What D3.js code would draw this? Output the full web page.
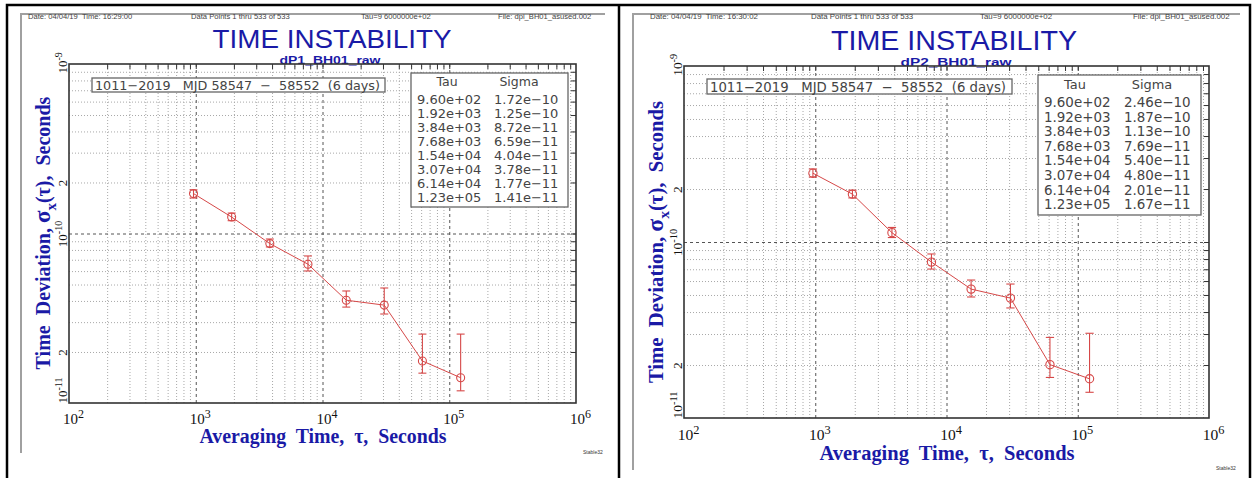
<!DOCTYPE html>
<html>
<head>
<meta charset="utf-8">
<script src="https://cdn.jsdelivr.net/npm/d3@7"></script>
<style>
  body { margin: 0; background: #fff; }
  svg text { font-family: "Liberation Sans", Arial, sans-serif; }
  .pre { white-space: pre; }
  .tbl { font-family: "DejaVu Sans", sans-serif !important; }
</style>
</head>
<body>
<svg id="chart" width="1253" height="478"></svg>
<script>
// ---- data ----
var tau = [960, 1920, 3840, 7680, 15400, 30700, 61400, 123000];

var sigma1   = [1.72e-10, 1.25e-10, 8.72e-11, 6.59e-11, 4.04e-11, 3.78e-11, 1.77e-11, 1.41e-11];
var sigma1Hi = [1.81e-10, 1.32e-10, 9.28e-11, 7.37e-11, 4.58e-11, 4.77e-11, 2.55e-11, 2.55e-11];
var sigma1Lo = [1.62e-10, 1.19e-10, 8.33e-11, 6.01e-11, 3.68e-11, 3.35e-11, 1.50e-11, 1.18e-11];

var sigma2   = [2.46e-10, 1.87e-10, 1.13e-10, 7.69e-11, 5.40e-11, 4.80e-11, 2.01e-11, 1.67e-11];
var sigma2Hi = [2.60e-10, 1.97e-10, 1.21e-10, 8.55e-11, 6.08e-11, 5.77e-11, 2.87e-11, 3.03e-11];
var sigma2Lo = [2.34e-10, 1.78e-10, 1.06e-10, 7.02e-11, 4.87e-11, 4.22e-11, 1.70e-11, 1.40e-11];

// table strings, as printed
var tauLabels    = ["9.60e+02", "1.92e+03", "3.84e+03", "7.68e+03", "1.54e+04", "3.07e+04", "6.14e+04", "1.23e+05"];
var sigma1Labels = ["1.72e\u221210", "1.25e\u221210", "8.72e\u221211", "6.59e\u221211", "4.04e\u221211", "3.78e\u221211", "1.77e\u221211", "1.41e\u221211"];
var sigma2Labels = ["2.46e\u221210", "1.87e\u221210", "1.13e\u221210", "7.69e\u221211", "5.40e\u221211", "4.80e\u221211", "2.01e\u221211", "1.67e\u221211"];

// axis ticks
var xTickValues = [1e2, 1e3, 1e4, 1e5, 1e6];
var xTickLabels = ["10^2", "10^3", "10^4", "10^5", "10^6"];
var yTickValues = [1e-11, 2e-11, 1e-10, 2e-10, 1e-9];
var yTickLabels = ["10^-11", "2", "10^-10", "2", "10^-9"];

var header1 = ["Date: 04/04/19  Time: 16:29:00", "Data Points 1 thru 533 of 533", "Tau=9 6000000e+02", "File: dpi_BH01_asused.002"];
var header2 = ["Date: 04/04/19  Time: 16:30:02", "Data Points 1 thru 533 of 533", "Tau=9 6000000e+02", "File: dpi_BH01_asused.002"];
var runLabel = "1011\u22122019   MJD 58547  \u2212  58552  (6 days)";

var blue = "#1a1aa6";
var red = "#d64848";

var svg = d3.select("#chart");

///////////////////////
// outer black frame (screenshot borders)
svg.append("path")
    .attr("d", "M7,478 V5 H1250 V478 M619,5 V478")
    .attr("fill", "none")
    .attr("stroke", "#000")
    .attr("stroke-width", 2.5);

// minor grid positions
var minorX = [], minorY = [];
for (var e = 2; e < 6; e++) for (var m = 2; m < 10; m++) minorX.push(m * Math.pow(10, e));
for (var e2 = -11; e2 < -9; e2++) for (var m2 = 2; m2 < 10; m2++) minorY.push(m2 * Math.pow(10, e2));

function drawPanel(p) {
  var k = p.k;
  var g = svg.append("g");

  // gray frame (left + top only)
  g.append("path")
      .attr("d", "M" + p.frame.x + "," + p.frame.y2 + " V" + p.frame.y + " H" + p.frame.x2)
      .attr("fill", "none")
      .attr("stroke", "#a0a0a0")
      .attr("stroke-width", 2);

  // header line
  p.headerTexts.forEach(function(t, i) {
    g.append("text")
        .attr("class", "pre")
        .text(t)
        .attr("x", p.header.xs[i])
        .attr("y", p.header.y)
        .attr("font-size", 7.6 * k)
        .attr("fill", "#444");
  });

  g.append("text")
      .text("TIME INSTABILITY")
      .attr("x", p.title.x)
      .attr("y", p.title.y)
      .attr("text-anchor", "middle")
      .attr("font-size", p.title.fs)
      .attr("textLength", p.title.w)
      .attr("lengthAdjust", "spacingAndGlyphs")
      .attr("fill", blue);

  g.append("text")
      .text(p.subtitle)
      .attr("x", p.sub.x)
      .attr("y", p.sub.y)
      .attr("text-anchor", "middle")
      .attr("font-size", p.sub.fs)
      .attr("font-weight", "bold")
      .attr("textLength", p.sub.w)
      .attr("lengthAdjust", "spacingAndGlyphs")
      .attr("fill", blue);

  ///////////////////////
  // Scales
  var x = d3.scaleLog().domain([1e2, 1e6]).range([p.x0, p.x1]);
  var y = d3.scaleLog().domain([1e-11, 1e-9]).range([p.y1, p.y0]);
  var w = p.x1 - p.x0, h = p.y1 - p.y0;

  ///////////////////////
  // Grid
  var gx = g.append("g")
      .attr("transform", "translate(0," + p.y1 + ")")
      .call(d3.axisBottom(x).tickValues(minorX).tickSize(-h).tickFormat(""));
  gx.select(".domain").remove();
  gx.selectAll("line").attr("stroke", "#a8a8a8").attr("stroke-dasharray", "1,2");

  var gy = g.append("g")
      .attr("transform", "translate(" + p.x0 + ",0)")
      .call(d3.axisLeft(y).tickValues(minorY).tickSize(-w).tickFormat(""));
  gy.select(".domain").remove();
  gy.selectAll("line").attr("stroke", "#a8a8a8").attr("stroke-dasharray", "1,2");

  var dx = g.append("g")
      .attr("transform", "translate(0," + p.y1 + ")")
      .call(d3.axisBottom(x).tickValues([1e3, 1e4, 1e5]).tickSize(-h).tickFormat(""));
  dx.select(".domain").remove();
  dx.selectAll("line").attr("stroke", "#555").attr("stroke-dasharray", "3,3");

  var dy = g.append("g")
      .attr("transform", "translate(" + p.x0 + ",0)")
      .call(d3.axisLeft(y).tickValues([1e-10]).tickSize(-w).tickFormat(""));
  dy.select(".domain").remove();
  dy.selectAll("line").attr("stroke", "#555").attr("stroke-dasharray", "3,3");

  // inner ticks on top and right edges
  var tt = g.append("g")
      .attr("transform", "translate(0," + p.y0 + ")")
      .call(d3.axisTop(x).tickValues(minorX.concat([1e3, 1e4, 1e5])).tickSize(-5).tickFormat(""));
  tt.select(".domain").remove();
  tt.selectAll("line").attr("stroke", "#333");

  var tr = g.append("g")
      .attr("transform", "translate(" + p.x1 + ",0)")
      .call(d3.axisRight(y).tickValues(minorY.concat([1e-10])).tickSize(-5).tickFormat(""));
  tr.select(".domain").remove();
  tr.selectAll("line").attr("stroke", "#333");

  // plot frame
  g.append("rect")
      .attr("x", p.x0).attr("y", p.y0)
      .attr("width", w).attr("height", h)
      .attr("fill", "none")
      .attr("stroke", "#333")
      .attr("stroke-width", 1.6);

  ///////////////////////
  // Tick labels
  var xl = g.append("g")
      .attr("transform", "translate(0," + (p.y1 + 21 * k) + ")")
      .call(d3.axisBottom(x).tickValues(xTickValues).tickSize(0).tickFormat(""));
  xl.select(".domain").remove();
  xl.selectAll(".tick text").remove();
  xl.selectAll(".tick").append("text")
      .attr("text-anchor", "middle")
      .attr("x", 4 * k)
      .attr("y", 0)
      .attr("fill", "#111")
      .style("font-family", "'Liberation Serif', 'Times New Roman', serif")
      .attr("font-size", 15 * k)
      .each(function(d, i) {
        var parts = xTickLabels[i].split("^");
        var t = d3.select(this);
        t.append("tspan").text(parts[0]);
        t.append("tspan").text(parts[1]).attr("dy", -6 * k).attr("font-size", 12 * k);
      });

  var yl = g.append("g")
      .attr("transform", "translate(" + p.x0 + ",0)")
      .call(d3.axisLeft(y).tickValues(yTickValues).tickSize(0).tickFormat(""));
  yl.select(".domain").remove();
  yl.selectAll(".tick text").remove();
  yl.selectAll(".tick").append("text")
      .attr("transform", "rotate(-90)")
      .attr("text-anchor", function(d, i) { return (i == 0 || i == yTickLabels.length - 1) ? "start" : "middle"; })
      .attr("x", function(d, i) { return i == yTickLabels.length - 1 ? -9 * k : 0; })
      .attr("y", -2)
      .attr("fill", "#111")
      .style("font-family", "'Liberation Serif', 'Times New Roman', serif")
      .attr("font-size", 13 * k)
      .each(function(d, i) {
        var parts = yTickLabels[i].split("^");
        var t = d3.select(this);
        t.append("tspan").text(parts[0]);
        if (parts[1]) t.append("tspan").text(parts[1]).attr("dy", -5 * k).attr("font-size", 10 * k);
      });

  ///////////////////////
  // Axis titles
  g.append("text")
      .attr("class", "pre")
      .text("Averaging  Time,  \u03c4,  Seconds")
      .attr("x", p.xTitle.x)
      .attr("y", p.xTitle.y)
      .attr("text-anchor", "middle")
      .style("font-family", "'Liberation Serif', 'Times New Roman', serif")
      .attr("font-weight", "bold")
      .attr("font-size", 20 * k)
      .attr("textLength", p.xTitle.w)
      .attr("lengthAdjust", "spacingAndGlyphs")
      .attr("fill", blue);

  var yt = g.append("text")
      .attr("class", "pre")
      .attr("transform", "translate(" + p.yTitle.x + "," + p.yTitle.y + ") rotate(-90)")
      .attr("text-anchor", "middle")
      .style("font-family", "'Liberation Serif', 'Times New Roman', serif")
      .attr("font-weight", "bold")
      .attr("font-size", 20 * k)
      .attr("fill", blue);
  yt.append("tspan").text("Time  Deviation, ");
  yt.append("tspan").text("\u03c3").attr("font-size", 23 * k);
  yt.append("tspan").text("x").attr("dy", 6 * k).attr("font-size", 15 * k);
  yt.append("tspan").text("(\u03c4),  Seconds").attr("dy", -6 * k);

  ///////////////////////
  // Label box
  g.append("rect")
      .attr("x", p.labelBox.x).attr("y", p.labelBox.y)
      .attr("width", p.labelBox.w).attr("height", p.labelBox.h)
      .attr("fill", "#fff")
      .attr("stroke", "#666")
      .attr("stroke-width", 1.3);
  g.append("text")
      .attr("class", "pre tbl")
      .text(runLabel)
      .attr("x", p.labelBox.x + 3)
      .attr("y", p.labelBox.y + p.labelBox.h - 2)
      .attr("font-size", 13 * k)
      .attr("textLength", p.labelBox.tw)
      .attr("lengthAdjust", "spacingAndGlyphs")
      .attr("fill", "#444");

  ///////////////////////
  // Table box
  var tb = p.table;
  g.append("rect")
      .attr("x", tb.x).attr("y", tb.y)
      .attr("width", tb.w).attr("height", tb.h)
      .attr("fill", "#fff")
      .attr("stroke", "#666")
      .attr("stroke-width", 1.3);
  g.append("text").text("Tau")
      .attr("class", "tbl")
      .attr("x", tb.tauHX).attr("y", tb.headY)
      .attr("text-anchor", "middle")
      .attr("font-size", 12.5 * k).attr("fill", "#444");
  g.append("text").text("Sigma")
      .attr("class", "tbl")
      .attr("x", tb.sigHX).attr("y", tb.headY)
      .attr("text-anchor", "middle")
      .attr("font-size", 12.5 * k).attr("fill", "#444");
  g.append("g").selectAll("text")
      .data(tauLabels)
      .enter().append("text")
      .attr("class", "tbl")
      .text(function(d) { return d; })
      .attr("x", tb.tauX)
      .attr("y", function(d, i) { return tb.row0 + i * tb.step; })
      .attr("font-size", 13 * k)
      .attr("fill", "#444");
  g.append("g").selectAll("text")
      .data(p.sigmaLabels)
      .enter().append("text")
      .attr("class", "tbl")
      .text(function(d) { return d; })
      .attr("x", tb.sigX)
      .attr("y", function(d, i) { return tb.row0 + i * tb.step; })
      .attr("font-size", 13 * k)
      .attr("fill", "#444");

  ///////////////////////
  // Data: line, error bars, circles
  var pts = tau.map(function(t, i) {
    return { tau: t, s: p.sigma[i], hi: p.hi[i], lo: p.lo[i] };
  });

  var line = d3.line()
      .x(function(d) { return x(d.tau); })
      .y(function(d) { return y(d.s); });

  g.append("path")
      .datum(pts)
      .attr("fill", "none")
      .attr("stroke", red)
      .attr("stroke-width", 1)
      .attr("d", line);

  var eb = g.append("g").selectAll("g")
      .data(pts)
      .enter().append("g")
      .attr("stroke", red)
      .attr("stroke-width", 1.1)
      .attr("fill", "none");
  eb.append("line")
      .attr("x1", function(d) { return x(d.tau); })
      .attr("x2", function(d) { return x(d.tau); })
      .attr("y1", function(d) { return y(d.hi); })
      .attr("y2", function(d) { return y(d.lo); });
  eb.append("line")
      .attr("x1", function(d) { return x(d.tau) - 4 * k; })
      .attr("x2", function(d) { return x(d.tau) + 4 * k; })
      .attr("y1", function(d) { return y(d.hi); })
      .attr("y2", function(d) { return y(d.hi); });
  eb.append("line")
      .attr("x1", function(d) { return x(d.tau) - 4 * k; })
      .attr("x2", function(d) { return x(d.tau) + 4 * k; })
      .attr("y1", function(d) { return y(d.lo); })
      .attr("y2", function(d) { return y(d.lo); });
  eb.append("circle")
      .attr("cx", function(d) { return x(d.tau); })
      .attr("cy", function(d) { return y(d.s); })
      .attr("r", 4 * k);

  // Stable32 stamp
  g.append("text")
      .text("Stable32")
      .attr("x", p.stable.x)
      .attr("y", p.stable.y)
      .attr("font-size", 5)
      .attr("fill", "#333");
}

drawPanel({
  x0: 69, x1: 576, y0: 64, y1: 403, k: 1,
  sigma: sigma1, hi: sigma1Hi, lo: sigma1Lo, sigmaLabels: sigma1Labels,
  subtitle: "dP1_BH01_raw", headerTexts: header1,
  frame: { x: 21, y: 14, x2: 605, y2: 453 },
  header: { y: 19, xs: [28, 191, 361, 498] },
  title: { x: 332, y: 48, w: 239, fs: 26 },
  sub: { x: 330, y: 64, w: 101, fs: 11.5 },
  labelBox: { x: 92, y: 78, w: 293, h: 14, tw: 285 },
  table: { x: 411, y: 73, w: 157, h: 134, tauX: 417, sigX: 494, headY: 86, row0: 104.3, step: 13.9, tauHX: 447, sigHX: 519 },
  xTitle: { x: 323, y: 443, w: 247 },
  yTitle: { x: 50, y: 233 },
  stable: { x: 583, y: 454 }
});

drawPanel({
  x0: 684, x1: 1209, y0: 66, y1: 418, k: 1.035,
  sigma: sigma2, hi: sigma2Hi, lo: sigma2Lo, sigmaLabels: sigma2Labels,
  subtitle: "dP2_BH01_raw", headerTexts: header2,
  frame: { x: 633, y: 14, x2: 1240, y2: 470 },
  header: { y: 19, xs: [650, 811, 980, 1133] },
  title: { x: 954, y: 49.8, w: 246, fs: 27 },
  sub: { x: 956, y: 65.8, w: 111, fs: 11.5 },
  labelBox: { x: 707, y: 79, w: 305, h: 15, tw: 296 },
  table: { x: 1038, y: 75, w: 163, h: 140, tauX: 1044, sigX: 1124, headY: 89, row0: 107, step: 14.6, tauHX: 1075, sigHX: 1152 },
  xTitle: { x: 947, y: 460, w: 255 },
  yTitle: { x: 663, y: 242 },
  stable: { x: 1216, y: 470 }
});
</script>
</body>
</html>
